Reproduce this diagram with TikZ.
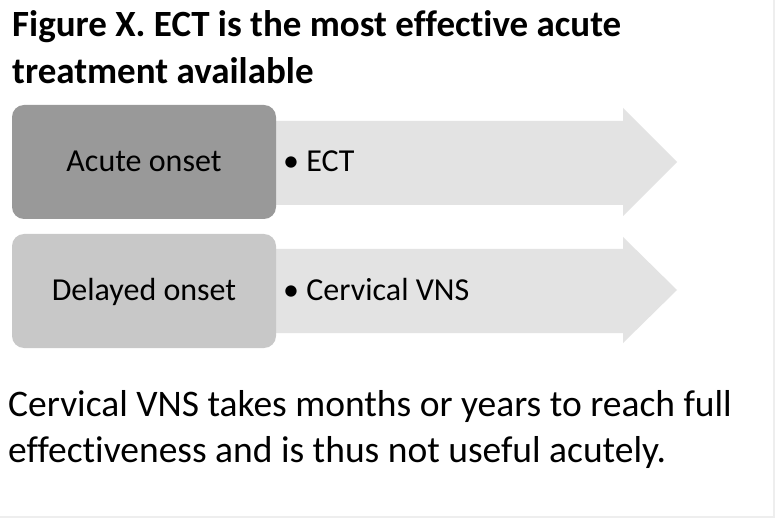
\documentclass[tikz,border=0pt]{standalone}
\usepackage{fontspec}
\setmainfont[Ligatures={NoCommon}]{Carlito}
\definecolor{boxdark}{RGB}{153,153,153}
\definecolor{boxlight}{RGB}{200,200,200}
\definecolor{arrowfill}{RGB}{227,227,227}
\definecolor{framegray}{RGB}{238,238,238}
\tikzset{
  onsetbox/.style={rounded corners=12pt, draw=none},
  arrowbody/.style={fill=arrowfill, draw=none},
  boxlabel/.style={font=\fontsize{32}{38}\selectfont, anchor=base, inner sep=0pt, text=black},
  bullettext/.style={font=\fontsize{32}{38}\selectfont, anchor=base west, inner sep=0pt, text=black},
  titletext/.style={font=\bfseries\fontsize{37}{44}\selectfont, anchor=base west, inner sep=0pt},
  bodytext/.style={font=\fontsize{37.5}{44}\selectfont, anchor=base west, inner sep=0pt}
}
\begin{document}
\begin{tikzpicture}[x=1pt,y=-1pt]
\useasboundingbox (0,0) rectangle (779,521);
\fill[white] (0,0) rectangle (779,521);
\draw[framegray, line width=1.2pt] (774,0) -- (774,517) -- (0,517);
% title
\node[titletext] (t1) at (12,37) {Figure X. ECT is the most effective acute};
\node[titletext] (t2) at (12,84) {treatment available};
% arrows
\fill[arrowbody] (270,121) -- (623,121) -- (623,108) -- (677,162) -- (623,216) -- (623,205) -- (270,205) -- cycle;
\fill[arrowbody] (270,249) -- (623,249) -- (623,237) -- (677,290) -- (623,343) -- (623,333) -- (270,333) -- cycle;
% boxes
\fill[onsetbox, fill=boxdark] (12,105) rectangle (276,219);
\fill[onsetbox, fill=boxlight] (12,234) rectangle (276,348);
\node[boxlabel] (b1) at (144,172) {Acute onset};
\node[boxlabel] (b2) at (144,301) {Delayed onset};
\node[bullettext] (e1) at (283,172) {\textbullet\ ECT};
\node[bullettext] (e2) at (283,301) {\textbullet\ Cervical VNS};
% body
\node[bodytext] (p1) at (8,416) {Cervical VNS takes months or years to reach full};
\node[bodytext] (p2) at (8,462) {effectiveness and is thus not useful acutely.};
\end{tikzpicture}
\end{document}
